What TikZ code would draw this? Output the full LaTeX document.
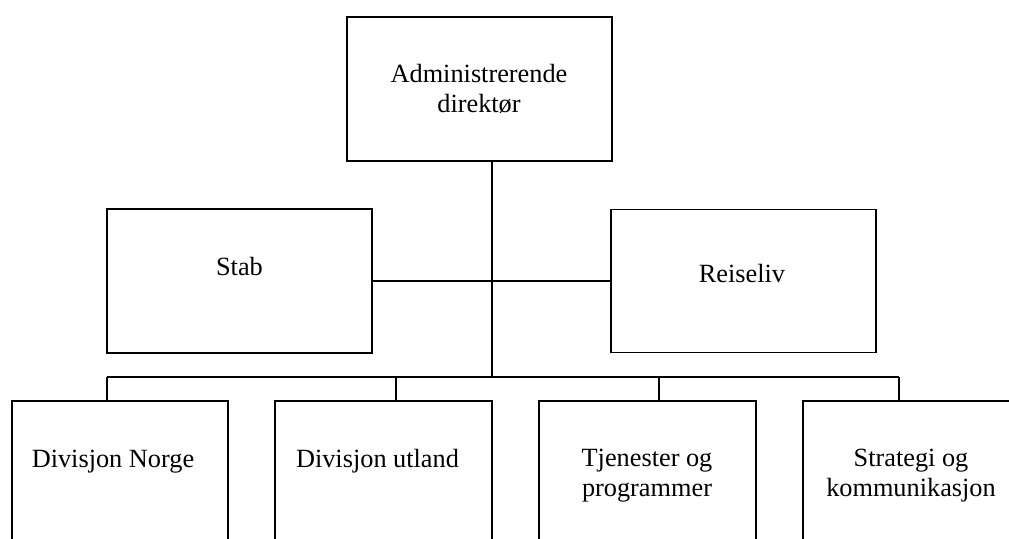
\documentclass[tikz,border=0pt]{standalone}
\usepackage{fontspec}
\setmainfont{Liberation Serif}
\begin{document}
\begin{tikzpicture}[x=1pt,y=-1pt,
  box/.style={draw=black,line width=1.4pt,rectangle,inner sep=0pt,fill=white},
  lbl/.style={inner sep=0pt,anchor=north,align=center,font=\fontsize{26.3}{30}\selectfont},
  link/.style={draw=black,line width=1.4pt}]
\useasboundingbox (0,0) rectangle (1009,538);
\clip (0,0) rectangle (1009,538);
\fill[white] (0,0) rectangle (1009,538);
% boxes
\node[box,minimum width=265pt,minimum height=144pt] (top) at (479.5,89) {};
\node[box,minimum width=265pt,minimum height=144pt] (stab) at (239.5,281) {};
\node[box,minimum width=265pt,minimum height=143pt] (reis) at (743.5,281) {};
\node[box,minimum width=216pt,minimum height=160pt] (b1) at (120,481) {};
\node[box,minimum width=217pt,minimum height=160pt] (b2) at (383.5,481) {};
\node[box,minimum width=217pt,minimum height=160pt] (b3) at (647.5,481) {};
\node[box,minimum width=217pt,minimum height=160pt] (b4) at (911.5,481) {};
% texts
\node[lbl] (ttop) at (479,60.8) {\strut Administrerende\\direktør};
\node[lbl] (tstab) at (239.5,253.8) {\strut Stab};
\node[lbl] (treis) at (742,260.8) {\strut Reiseliv};
\node[lbl] (tb1) at (113,445.8) {\strut Divisjon Norge};
\node[lbl] (tb2) at (377.5,445.8) {\strut Divisjon utland};
\node[lbl] (tb3) at (647,445.5) {\strut Tjenester og\\programmer};
\node[lbl] (tb4) at (911,445.5) {\strut Strategi og\\kommunikasjon};
% connectors
\coordinate (trunk) at (492,377);
\coordinate (d1) at (107,377);
\coordinate (d2) at (396,377);
\coordinate (d3) at (659,377);
\coordinate (d4) at (899,377);
\draw[link] (trunk |- top.south) -- (trunk);
\draw[link] (stab.east) -- (reis.west);
\draw[link] (d1) -- (d4);
\draw[link] (d1) -- (d1 |- b1.north);
\draw[link] (d2) -- (d2 |- b2.north);
\draw[link] (d3) -- (d3 |- b3.north);
\draw[link] (d4) -- (d4 |- b4.north);
\end{tikzpicture}
\end{document}
